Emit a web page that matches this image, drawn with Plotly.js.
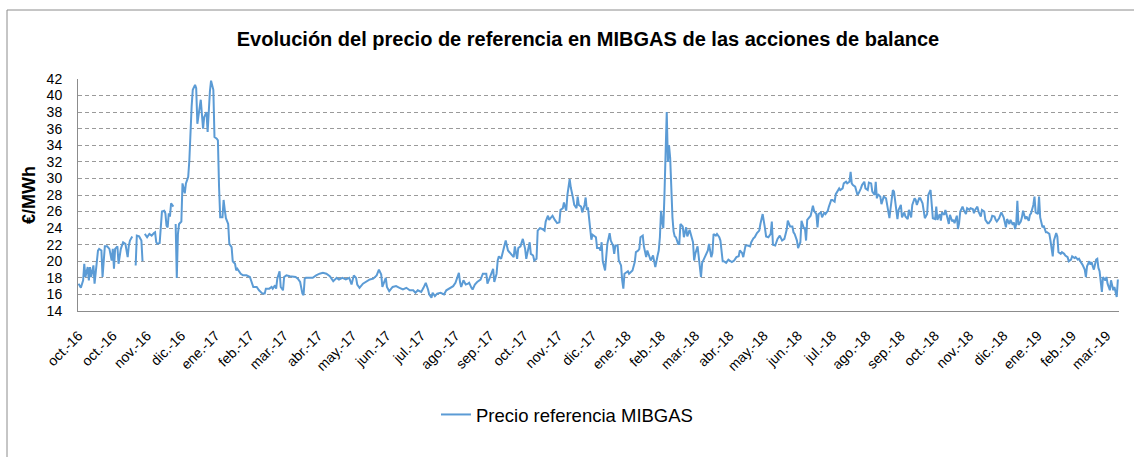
<!DOCTYPE html>
<html>
<head>
<meta charset="utf-8">
<script src="https://cdn.plot.ly/plotly-3.0.1.min.js"></script>
<style>
html,body{margin:0;padding:0;background:#fff;}
#chart{width:1134px;height:457px;}
</style>
</head>
<body>
<div id="chart"></div>
<script>
// Days counted from 2016-10-01 (null value = missing day in the series)
const dayOffset = [0,2,4,5,6,8,9,10,11,13,14,15,17,18,20,21,23,25,27,29,30,31,32,34,35,37,38,39,41,43,44,45,47,48,50,51,53,55,56,57,58,60,62,64,66,67,68,69,71,72,73,75,76,77,78,79,80,81,83,84,85,86,87,88,
90,91,93,94,96,97,99,100,102,103,104,106,107,109,110,112,113,115,116,118,119,121,122,123,124,126,127,128,129,131,132,134,135,137,138,139,141,142,144,147,150,151,153,156,158,161,163,164,167,169,170,172,173,174,176,177,179,180,182,185,188,190,192,194,196,197,198,199,
202,205,208,211,214,217,220,223,226,228,231,234,237,239,241,243,244,246,249,252,255,258,261,263,265,266,269,270,272,275,278,281,284,287,290,293,295,297,300,302,304,306,307,309,310,312,314,317,320,322,
325,328,330,333,334,335,337,339,341,342,344,345,347,349,352,354,357,358,360,361,363,364,366,367,368,370,371,373,374,376,378,380,381,382,384,385,387,388,389,391,392,393,395,396,398,399,401,402,404,406,408,409,411,412,414,415,417,419,421,422,424,425,427,428,430,431,433,434,436,437,438,440,441,443,444,445,446,
448,449,450,452,453,454,456,457,458,459,461,462,463,465,466,468,469,470,472,473,475,476,477,478,481,482,484,485,487,488,490,491,492,494,495,497,498,500,501,503,504,505,507,508,509,510,511,512,513,514,515,516,517,518,519,520,521,522,523,525,526,527,529,530,532,533,535,536,538,539,540,542,543,545,546,548,549,551,552,554,555,556,558,559,561,562,564,565,567,569,
570,572,574,576,578,579,581,582,584,586,588,589,591,592,594,596,597,599,601,602,604,606,607,608,610,612,614,616,618,620,621,623,625,626,627,629,630,632,633,635,636,637,638,640,641,643,644,646,647,648,650,651,653,654,656,657,659,660,662,663,664,666,667,669,670,672,673,675,676,677,678,680,682,683,685,686,688,689,691,
692,694,695,697,698,699,700,702,703,705,707,708,710,711,713,714,716,717,718,720,721,723,724,726,727,729,730,732,733,734,736,737,739,740,741,743,744,746,747,748,750,751,752,754,755,756,758,759,761,762,763,765,766,767,769,770,771,772,774,775,777,778,780,781,783,784,785,787,788,790,791,793,794,796,797,799,800,802,803,804,
806,808,810,812,813,815,816,818,819,820,821,822,823,825,826,827,829,830,832,833,834,836,837,838,840,841,842,844,845,847,848,850,851,853,854,856,857,858,860,861,863,864,866,867,869,870,872,873,875,876,878,879,881,882,883,885,886,887,888,889,891,892,893,894,896,897,899,900,901,903,904,906,907,908,909,910];

const price = [17.3,16.8,17.7,19.7,18.1,19.3,17.7,19.3,18.1,19.5,17.3,18.5,21.3,21.5,21.3,18.1,21.8,21.8,21.5,20.1,21.5,19.1,21.5,21.8,19.7,21.5,21.8,22.3,22.1,20.5,21.9,22.5,23.0,null,19.5,23.1,23.0,22.5,20.0,null,23.3,22.9,23.3,23.1,23.4,23.5,22.3,22.1,22.2,23.7,26.0,26.1,25.8,24.3,24.1,25.8,25.4,27.0,26.6,null,24.5,18.0,23.3,24.5,
24.8,29.4,28.2,29.4,30.2,32.2,38.7,40.7,41.3,40.9,36.6,38.7,39.5,36.0,37.4,38.0,35.6,40.5,41.8,40.7,35.0,34.8,34.6,29.0,25.3,25.3,27.4,26.2,25.2,24.5,22.1,21.7,20.0,19.7,18.9,19.1,18.7,18.5,18.3,18.3,18.1,17.7,16.9,16.9,16.5,16.1,16.1,16.7,16.7,16.9,16.7,17.1,16.7,17.9,18.8,16.9,16.5,18.1,18.3,18.2,18.1,18.1,17.9,17.5,16.1,15.9,17.9,18.0,
18.0,18.0,18.3,18.5,18.6,18.5,18.2,17.6,18.0,17.8,18.0,17.8,18.0,17.2,18.3,18.0,17.2,16.8,17.3,17.5,17.8,17.9,18.3,19.0,18.4,16.9,18.0,16.9,16.4,16.9,17.0,16.8,16.6,16.8,16.5,16.5,16.2,16.5,16.3,16.8,17.4,16.6,16.0,15.6,16.2,15.8,16.1,16.2,16.0,16.5,
16.8,17.0,17.4,18.6,17.5,16.9,17.7,17.2,17.3,17.4,16.8,16.6,17.2,17.5,17.8,18.5,18.5,17.3,18.0,18.3,19.1,17.5,18.5,20.1,20.6,20.3,20.9,22.1,22.5,21.3,21.0,20.7,20.5,21.8,20.3,21.6,21.8,22.3,22.7,21.5,20.3,21.0,22.3,20.9,20.7,20.1,20.3,23.7,24.0,23.9,23.7,24.8,25.5,25.0,25.3,25.5,25.0,24.6,24.7,26.2,26.4,27.1,26.1,28.0,29.9,28.9,27.6,26.8,26.4,27.8,26.8,26.6,25.9,26.8,27.7,26.2,26.5,
24.0,22.6,23.2,23.0,22.9,21.6,21.6,21.3,22.3,20.0,18.9,20.5,22.1,23.4,22.5,21.9,20.9,21.9,21.9,20.1,19.5,17.7,16.7,18.5,18.8,18.5,18.8,18.9,19.9,21.1,21.3,21.5,22.9,23.1,21.8,20.5,21.3,20.5,20.1,20.7,19.9,19.3,20.7,21.3,22.9,26.1,24.8,24.0,28.0,33.0,38.0,32.0,34.0,32.5,27.8,25.3,23.6,23.0,22.9,22.1,22.1,24.5,24.2,22.9,24.1,23.0,23.8,23.2,22.3,20.1,20.9,21.8,20.3,18.1,19.8,20.5,20.7,21.3,22.1,20.5,21.0,23.3,23.1,23.3,22.9,22.5,20.0,20.0,19.8,20.2,
20.1,19.9,20.1,20.5,20.6,21.3,21.0,20.5,21.9,21.9,21.8,22.3,22.8,22.9,23.4,23.7,24.5,25.7,24.0,23.0,22.9,23.3,24.8,22.0,21.9,22.7,23.1,22.5,22.7,23.8,24.9,24.2,24.2,23.5,23.3,22.5,21.6,22.3,24.9,24.0,24.0,22.5,25.0,25.3,25.5,26.7,26.1,25.7,24.1,25.7,25.9,25.3,25.9,25.7,26.1,26.6,27.4,27.4,27.2,28.1,28.3,28.8,28.6,28.8,29.4,29.6,29.4,29.6,30.8,29.4,29.2,29.0,28.0,28.2,28.8,29.2,29.6,28.8,28.6,
29.5,29.4,28.4,28.0,29.6,27.6,28.1,27.8,26.9,27.8,27.6,26.8,25.2,26.4,28.6,28.4,26.5,25.1,26.2,26.8,25.3,25.9,25.4,25.1,26.2,25.3,26.8,27.6,27.4,26.8,27.6,27.6,27.0,25.8,25.2,25.7,28.0,28.6,26.6,25.2,25.1,26.6,25.0,25.7,24.9,25.9,25.6,26.2,25.1,24.5,25.6,24.8,25.0,24.6,25.5,23.9,24.6,26.0,26.6,26.2,25.7,26.4,26.2,26.4,26.3,25.8,26.2,26.6,26.0,25.4,26.2,26.0,25.0,24.6,24.6,25.0,25.5,25.4,25.0,24.8,
25.2,25.9,25.3,24.1,25.1,24.5,25.0,24.4,24.7,23.9,24.5,27.3,24.4,24.8,25.3,26.1,25.1,25.4,24.9,25.6,25.8,26.8,27.8,25.9,25.7,27.8,25.3,24.1,24.3,23.5,23.5,23.3,22.5,20.6,22.5,23.4,23.0,21.1,20.9,21.1,20.9,20.7,20.5,20.0,20.2,20.6,20.4,20.5,20.2,20.3,19.8,19.6,19.0,18.1,19.4,20.0,19.6,19.9,19.4,19.0,20.2,20.3,19.2,18.8,16.3,18.1,17.7,18.1,17.3,16.5,17.7,16.5,16.9,16.1,15.7,17.8];

const tickDates = ['2016-10-01','2016-10-31','2016-11-30','2016-12-30','2017-01-29','2017-02-28','2017-03-30','2017-04-29','2017-05-29','2017-06-28','2017-07-28','2017-08-27','2017-09-26','2017-10-26','2017-11-25','2017-12-25','2018-01-24','2018-02-23','2018-03-25','2018-04-24','2018-05-24','2018-06-23','2018-07-23','2018-08-22','2018-09-21','2018-10-21','2018-11-20','2018-12-20','2019-01-19','2019-02-18','2019-03-20'];
const tickLabels = ['oct.-16','oct.-16','nov.-16','dic.-16','ene.-17','feb.-17','mar.-17','abr.-17','may.-17','jun.-17','jul.-17','ago.-17','sep.-17','oct.-17','nov.-17','dic.-17','ene.-18','feb.-18','mar.-18','abr.-18','may.-18','jun.-18','jul.-18','ago.-18','sep.-18','oct.-18','nov.-18','dic.-18','ene.-19','feb.-19','mar.-19'];

const seriesName = 'Precio referencia MIBGAS';
const chartTitle = 'Evolución del precio de referencia en MIBGAS de las acciones de balance';
const yTitle = '€/MWh';

function toDate(d){
  const t = new Date(Date.UTC(2016, 9, 1) + d * 86400000);
  return t.toISOString().slice(0, 10);
}
const dates = dayOffset.map(toDate);

const trace = {
  x: dates, y: price, type: 'scatter', mode: 'lines', name: seriesName,
  line: {color: '#5b9bd5', width: 2}, connectgaps: false, showlegend: true
};

const layout = {
  width: 1134, height: 457,
  margin: {l: 78, r: 15, t: 79, b: 146},
  paper_bgcolor: '#ffffff', plot_bgcolor: '#ffffff',
  font: {family: 'Liberation Sans, Arial, sans-serif', color: '#000000'},
  title: {
    text: '<b>' + chartTitle + '</b>',
    font: {family: 'Liberation Sans, Arial, sans-serif', size: 20, color: '#000000'},
    x: 588/1134, xanchor: 'center', xref: 'container',
    y: 1 - 39/457, yanchor: 'middle', yref: 'container'
  },
  xaxis: {
    type: 'date',
    range: ['2016-09-30 12:00', '2019-03-31'],
    tickmode: 'array', tickvals: tickDates, ticktext: tickLabels,
    tickangle: -45, tickfont: {size: 14},
    ticks: 'outside', ticklen: 10, tickcolor: 'rgba(0,0,0,0)',
    showgrid: false, zeroline: false,
    showline: true, linecolor: '#8c8c8c', linewidth: 1
  },
  yaxis: {
    range: [14, 42], tick0: 14, dtick: 2,
    tickfont: {size: 14},
    ticks: 'outside', ticklen: 12, tickcolor: 'rgba(0,0,0,0)',
    showgrid: true, gridcolor: '#9a9a9a', gridwidth: 1, griddash: '4px,3px',
    zeroline: false, showline: true, linecolor: '#8c8c8c', linewidth: 1,
    title: {text: '<b>' + yTitle + '</b>', font: {size: 18}, standoff: 6}
  },
  legend: {
    orientation: 'h', x: (436-78)/1041, xanchor: 'left', y: -0.448, yanchor: 'middle',
    font: {size: 18.5}, bgcolor: 'rgba(0,0,0,0)'
  },
  shapes: [{
    type: 'rect', xref: 'paper', yref: 'paper',
    x0: -71/1041, x1: 1.2, y0: -1, y1: (311-10)/232,
    line: {color: '#8c8c8c', width: 1}, fillcolor: 'rgba(0,0,0,0)', layer: 'below'
  }]
};

Plotly.newPlot('chart', [trace], layout, {staticPlot: true, displayModeBar: false});
</script>
</body>
</html>
